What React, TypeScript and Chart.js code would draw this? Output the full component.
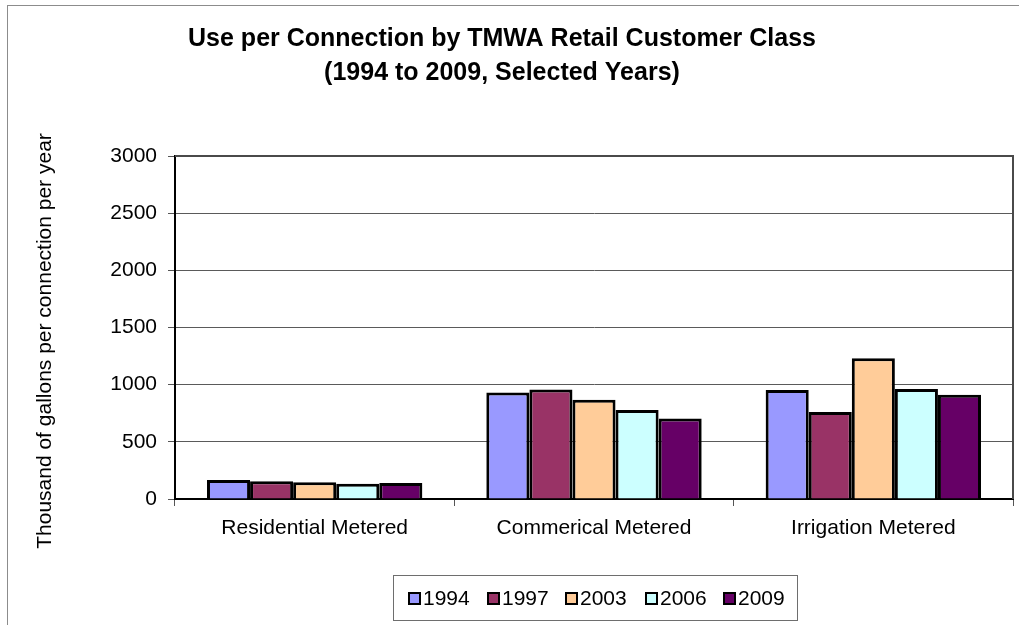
import React, { useEffect, useRef } from "react";
import { Chart, registerables } from "chart.js";

Chart.register(...registerables);

const categories = ["Residential Metered", "Commerical Metered", "Irrigation Metered"];
const seriesLabels = ["1994", "1997", "2003", "2006", "2009"];
const values1994 = [166, 931, 953];
const values1997 = [155, 957, 761];
const values2003 = [146, 869, 1231];
const values2006 = [134, 778, 962];
const values2009 = [140, 703, 912];
const seriesColors = ["#9999FF", "#993366", "#FFCC99", "#CCFFFF", "#660066"];
const yTicks = [0, 500, 1000, 1500, 2000, 2500, 3000];
const titleLines = ["Use per Connection by TMWA Retail Customer Class", "(1994 to 2009, Selected Years)"];
const yAxisTitle = "Thousand of gallons per connection per year";

const FONT = "'Liberation Sans', Arial, sans-serif";

export default function App() {
  const ref = useRef<HTMLCanvasElement | null>(null);
  useEffect(() => {
    const canvas = ref.current;
    if (!canvas) return;
    const allValues = [values1994, values1997, values2003, values2006, values2009];
    const decor = {
      id: "decor",
      afterDraw(chart: any) {
        const ctx = chart.ctx as CanvasRenderingContext2D;
        const a = chart.chartArea;
        ctx.save();
        // outer frame
        ctx.strokeStyle = "#8c8c8c";
        ctx.lineWidth = 1;
        ctx.strokeRect(7.5, 5.5, 2000, 2000);
        // plot frame top/right
        ctx.strokeStyle = "#4a4a4a";
        ctx.lineWidth = 2;
        ctx.beginPath();
        ctx.moveTo(a.left, a.top);
        ctx.lineTo(a.right, a.top);
        ctx.lineTo(a.right, a.bottom);
        ctx.stroke();
        // title
        ctx.fillStyle = "#000";
        ctx.font = `bold 25px ${FONT}`;
        ctx.textAlign = "center";
        ctx.textBaseline = "middle";
        ctx.fillText(titleLines[0], 502, 39);
        ctx.fillText(titleLines[1], 502, 73);
        // y title
        ctx.save();
        ctx.translate(45, 341);
        ctx.rotate(-Math.PI / 2);
        ctx.font = `21px ${FONT}`;
        ctx.fillText(yAxisTitle, 0, 0);
        ctx.restore();
        // legend
        ctx.strokeStyle = "#6e6e6e";
        ctx.lineWidth = 1;
        ctx.strokeRect(393.5, 575.5, 404, 45);
        ctx.font = `21px ${FONT}`;
        ctx.textAlign = "left";
        const xs = [409, 488, 566, 646, 724];
        seriesLabels.forEach((lab, i) => {
          ctx.fillStyle = seriesColors[i];
          ctx.fillRect(xs[i], 593, 11, 11);
          ctx.strokeStyle = "#000";
          ctx.lineWidth = 2;
          ctx.strokeRect(xs[i], 593, 11, 11);
          ctx.fillStyle = "#000";
          ctx.fillText(lab, xs[i] + 14, 599);
        });
        ctx.restore();
      },
    };
    const chart = new Chart(canvas, {
      type: "bar",
      data: {
        labels: categories,
        datasets: seriesLabels.map((lab, i) => ({
          label: lab,
          data: allValues[i],
          backgroundColor: seriesColors[i],
          borderColor: "#000",
          borderWidth: 3,
          categoryPercentage: 0.771,
          barPercentage: 1,
        })),
      },
      options: {
        responsive: false,
        animation: false,
        devicePixelRatio: 1,
        layout: { padding: { top: 156, left: 0, right: 6, bottom: 86 } },
        plugins: {
          legend: { display: false },
          title: { display: false },
          tooltip: { enabled: false },
        },
        scales: {
          x: {
            afterFit: (s: any) => {
              s.height = 40;
            },
            grid: {
              offset: true,
              drawOnChartArea: false,
              drawTicks: true,
              tickLength: 7,
              tickColor: "#555",
            },
            border: { color: "#000", width: 2 },
            ticks: { color: "#000", font: { family: FONT, size: 21 }, padding: 10 },
          },
          y: {
            min: 0,
            max: 3000,
            afterFit: (s: any) => {
              s.width = 175;
            },
            afterBuildTicks: (s: any) => {
              s.ticks = yTicks.map((v) => ({ value: v }));
            },
            grid: {
              color: "#5a5a5a",
              lineWidth: 1,
              tickLength: 7,
              tickColor: "#555",
            },
            border: { color: "#000", width: 2 },
            ticks: {
              color: "#000",
              font: { family: FONT, size: 21 },
              padding: 11,
              callback: (v: any) => String(v),
            },
          },
        },
      },
      plugins: [decor],
    });
    return () => chart.destroy();
  }, []);
  return (
    <canvas
      ref={ref}
      width={1019}
      height={625}
      style={{ position: "absolute", left: 0, top: 0, width: 1019, height: 625, display: "block", background: "#fff" }}
    />
  );
}
